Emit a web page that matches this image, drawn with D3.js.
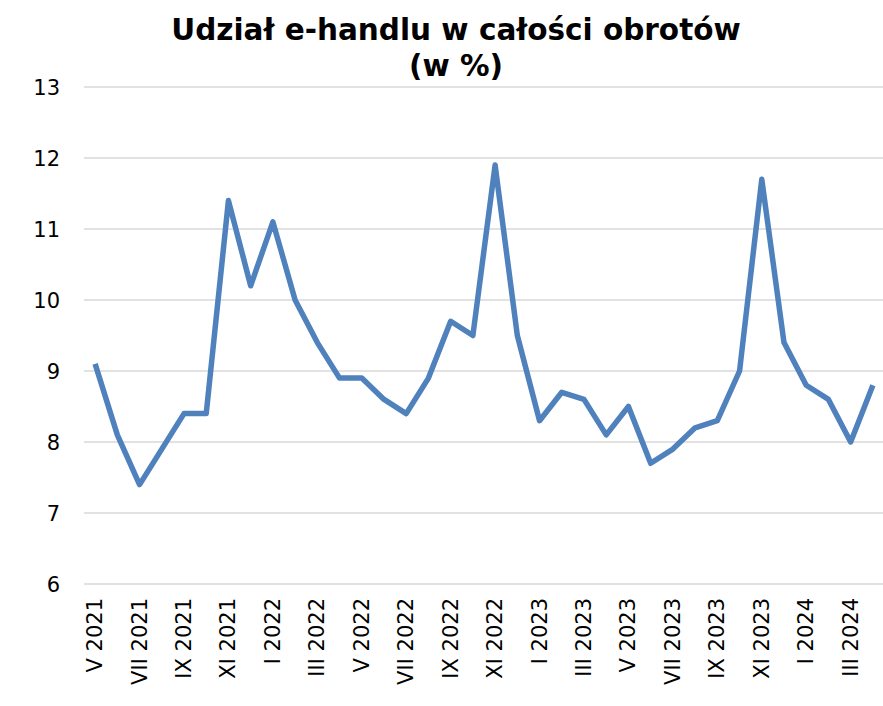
<!DOCTYPE html>
<html><head><meta charset="utf-8">
<script src="https://cdn.jsdelivr.net/npm/d3@7"></script>
<style>body{margin:0;background:#fff}</style>
</head><body>
<svg id="c" width="883" height="706"></svg>
<script>
const categories = ["V 2021","VI 2021","VII 2021","VIII 2021","IX 2021","X 2021","XI 2021","XII 2021",
"I 2022","II 2022","III 2022","IV 2022","V 2022","VI 2022","VII 2022","VIII 2022","IX 2022","X 2022","XI 2022","XII 2022",
"I 2023","II 2023","III 2023","IV 2023","V 2023","VI 2023","VII 2023","VIII 2023","IX 2023","X 2023","XI 2023","XII 2023",
"I 2024","II 2024","III 2024","IV 2024"];
const values = [9.1,8.1,7.4,7.9,8.4,8.4,11.4,10.2,
11.1,10.0,9.4,8.9,8.9,8.6,8.4,8.9,9.7,9.5,11.9,9.5,
8.3,8.7,8.6,8.1,8.5,7.7,7.9,8.2,8.3,9.0,11.7,9.4,
8.8,8.6,8.0,8.8];
const yTicks = [6,7,8,9,10,11,12,13];
const titleLines = ["Udział e-handlu w całości obrotów","(w %)"];

(function(){
const svg = d3.select("#c");
const mL = 84, mR = 884, mT = 87, mB = 584;
const x = d3.scaleBand().domain(categories).range([mL, mR]);
const y = d3.scaleLinear().domain([6,13]).range([mB, mT]);
const font = "DejaVu Sans, Verdana, sans-serif";

svg.append("g").selectAll("line").data(yTicks).join("line")
  .attr("x1", mL).attr("x2", mR)
  .attr("y1", d => y(d)).attr("y2", d => y(d))
  .attr("stroke", "#d9d9d9").attr("stroke-width", 1.5);

svg.append("g").selectAll("text").data(yTicks).join("text")
  .attr("x", 60).attr("y", d => y(d)).attr("dy", "0.36em")
  .attr("text-anchor", "end").attr("font-family", font).attr("font-size", 21)
  .attr("fill", "#000").text(d => d);

const xLab = categories.filter((d,i) => i % 2 === 0);
svg.append("g").selectAll("text").data(xLab).join("text")
  .attr("transform", d => `translate(${x(d) + x.bandwidth()/2 + 7},598) rotate(-90)`)
  .attr("text-anchor", "end").attr("font-family", font).attr("font-size", 21)
  .attr("fill", "#000").text(d => d);

const line = d3.line().x((d,i) => x(categories[i]) + x.bandwidth()/2).y(d => y(d));
svg.append("path").datum(values).attr("d", line)
  .attr("fill", "none").attr("stroke", "#4f81bd").attr("stroke-width", 5.5)
  .attr("stroke-linejoin", "round").attr("stroke-linecap", "butt");

svg.append("g").selectAll("text").data(titleLines).join("text")
  .attr("x", 456).attr("y", (d,i) => 40 + i*36)
  .attr("text-anchor", "middle").attr("font-family", font).attr("font-weight", "bold")
  .attr("font-size", 29.5).attr("fill", "#000").text(d => d);
})();
</script>
</body></html>
